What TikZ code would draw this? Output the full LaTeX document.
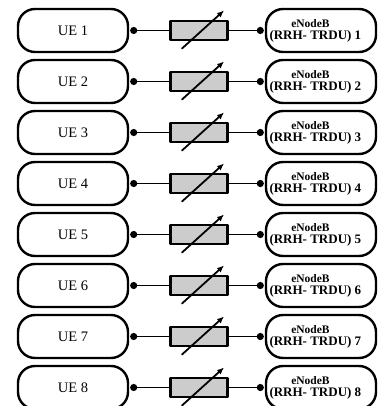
\documentclass[tikz,border=0pt]{standalone}
\usepackage{fontspec}
\setmainfont{Liberation Serif}
\usetikzlibrary{arrows.meta, calc}

\tikzset{
	pill/.style={draw, line width=2.4pt, rounded corners=17pt, minimum width=110pt, minimum height=43pt, inner sep=0pt, align=center},
	resbox/.style={draw, line width=2.2pt, fill=gray!40, minimum width=57pt, minimum height=18.5pt, inner sep=0pt},
	wire/.style={line width=1.8pt},
}

\begin{document}
\begin{tikzpicture}[x=1pt, y=-1pt, >={Latex[length=7pt,width=6pt]}, line cap=round, line join=round]
\useasboundingbox (0,0) rectangle (379,406);
%========================
% one row per UE: UE -- variable attenuator -- eNodeB
%========================
\foreach \i in {1,...,8}{
	\pgfmathsetmacro{\rowy}{30.5+51*(\i-1)}
	% end boxes
	\node[pill, font=\fontsize{14.5}{16}\selectfont] (ue\i) at (73,\rowy) {UE \i};
	\node[pill, font=\bfseries] (enb\i) at (321,\rowy) {%
		{\fontsize{11.5}{14}\selectfont eNodeB}\hspace*{21pt}\\
		{\fontsize{13}{14}\selectfont (RRH- TRDU)\rlap{ \i}}\hspace*{21pt}};
	% attenuator
	\node[resbox] (res\i) at (199,\rowy) {};
	\draw[->, line width=1.8pt] ([shift={(-17,18)}]res\i.center) -- ([shift={(25,-20)}]res\i.center);
	% terminals
	\coordinate (a\i) at ([xshift=4.5pt]ue\i.east);
	\coordinate (b\i) at ([xshift=-4.5pt]enb\i.west);
	\draw[wire] (a\i) -- (res\i.west);
	\draw[wire] (res\i.east) -- (b\i);
	\fill (a\i) circle (3.6pt);
	\fill (b\i) circle (3.6pt);
}
\end{tikzpicture}
\end{document}
